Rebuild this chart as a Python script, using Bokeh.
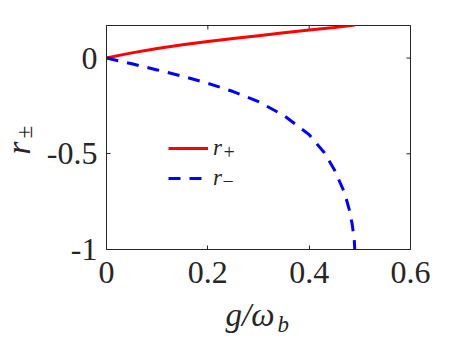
import math
from bokeh.plotting import figure
from bokeh.models import Range1d, FixedTicker, Legend, LegendItem, Label
from bokeh.embed import file_html
from bokeh.resources import INLINE

# data
g_plus = [0, 0.025, 0.05, 0.1, 0.15, 0.2, 0.25, 0.3, 0.35, 0.4, 0.45, 0.49]
r_plus = [0, 0.014, 0.027, 0.050, 0.069, 0.086, 0.102, 0.117, 0.132, 0.146, 0.160, 0.172]
g_minus = [0, 0.05, 0.1, 0.15, 0.2, 0.25, 0.3, 0.35, 0.4, 0.43, 0.45, 0.47, 0.48, 0.485, 0.489, 0.49]
r_minus = [0, -0.030, -0.062, -0.095, -0.132, -0.175, -0.228, -0.300, -0.400, -0.495,
           -0.585, -0.705, -0.800, -0.870, -0.950, -1.0]
x_ticks = [0, 0.2, 0.4, 0.6]
x_tick_labels = ["0", "0.2", "0.4", "0.6"]
y_ticks = [-1, -0.5, 0]
y_tick_labels = ["-1", "-0.5", "0"]
legend_main = ["r", "r"]
legend_subs = ["+", "\u2212"]
X_MIN, X_MAX = 0, 0.6
Y_MIN, Y_MAX = -1, 0.17

FONT = "Liberation Serif"
TXT = "#262626"
W, H = 454, 340
FL, FR, FT, FB = 106, 410, 25, 249   # frame edges in canvas pixels
MID = 0.3375                         # baseline offset of a "middle" anchored text, in em

p = figure(width=W, height=H, output_backend="svg", toolbar_location=None,
           x_range=Range1d(X_MIN, X_MAX), y_range=Range1d(Y_MIN, Y_MAX),
           min_border_left=FL, min_border_right=W - FR, min_border_top=FT, min_border_bottom=H - FB)
p.xgrid.visible = False
p.ygrid.visible = False
p.outline_line_color = TXT
p.outline_line_width = 1
p.background_fill_color = "white"
p.border_fill_color = "white"

for ax, ticks, labels, standoff in ((p.xaxis[0], x_ticks, x_tick_labels, 12),
                                    (p.yaxis[0], y_ticks, y_tick_labels, 9)):
    ax.ticker = FixedTicker(ticks=ticks)
    ax.major_label_overrides = {float(t): l for t, l in zip(ticks, labels)}
    ax.major_tick_in = 4
    ax.major_tick_out = 0
    ax.minor_tick_in = 0
    ax.minor_tick_out = 0
    ax.axis_line_color = TXT
    ax.major_tick_line_color = TXT
    ax.major_label_text_font = FONT
    ax.major_label_text_font_size = "32px"
    ax.major_label_text_color = TXT
    ax.major_label_standoff = standoff

# mirrored inward ticks on top and right edges (half of each dash is clipped by the frame)
p.scatter(x=x_ticks, y=[Y_MAX] * len(x_ticks), marker="dash", size=8, angle=math.pi / 2,
          line_color=TXT, line_width=1)
p.scatter(x=[X_MAX] * len(y_ticks), y=y_ticks, marker="dash", size=8,
          line_color=TXT, line_width=1)

lp = p.line(g_plus, r_plus, line_color="#ff0000", line_width=3)
lm = p.line(g_minus, r_minus, line_color="#0000ff", line_width=3, line_dash="12 9")

legend = Legend(items=[LegendItem(label=legend_main[0], renderers=[lp]),
                       LegendItem(label=legend_main[1], renderers=[lm])],
                location=(62, 56), padding=0, margin=0, spacing=0,
                glyph_width=40, glyph_height=30, label_height=30, label_standoff=5,
                border_line_alpha=0, background_fill_alpha=0,
                label_text_font=FONT, label_text_font_style="italic",
                label_text_font_size="23px", label_text_color=TXT)
p.add_layout(legend, "center")


def dx(px):
    return X_MIN + (px - FL) / (FR - FL) * (X_MAX - X_MIN)


def dy(py):
    return Y_MIN + (FB - py) / (FB - FT) * (Y_MAX - Y_MIN)


def lab(text, px, py, size, italic=True, angle=0.0):
    return Label(x=dx(px), y=dy(py), text=text, angle=angle,
                 text_font=FONT, text_font_style="italic" if italic else "normal",
                 text_font_size=f"{size}px", text_color=TXT, text_baseline="middle",
                 text_align="left")


# legend subscripts (inside the frame)
p.add_layout(lab(legend_subs[0], 223, 151, 20, italic=False), "center")
p.add_layout(lab(legend_subs[1], 222, 180, 20, italic=False), "center")

# axis titles, placed in side panels so they are not clipped to the frame
p.add_layout(lab("r", 30 - MID * 33, 154, 33, angle=math.pi / 2), "left")
p.add_layout(lab("\u00b1", 32 - MID * 23, 138, 23, italic=False, angle=math.pi / 2), "above")
p.add_layout(lab("g/\u03c9", 225, 326 - MID * 33, 33), "below")
p.add_layout(lab("b", 277, 332 - MID * 23, 23), "right")

open("out.html", "w").write(file_html(p, INLINE))
